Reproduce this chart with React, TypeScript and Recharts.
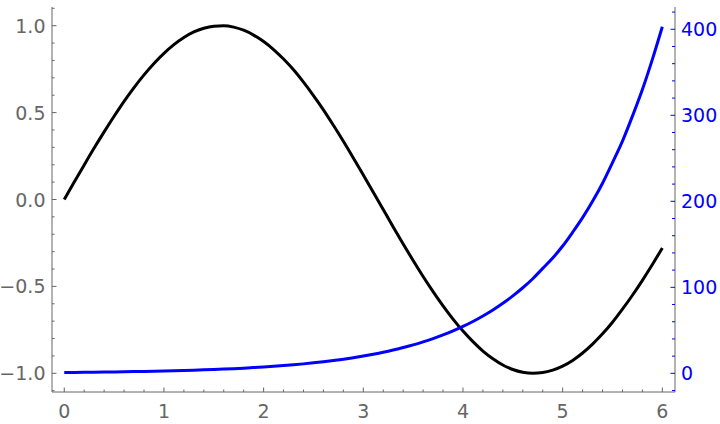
import { LineChart, Line, XAxis, YAxis } from 'recharts'

const xValues = [
  0, 0.1, 0.2, 0.3, 0.4, 0.5, 0.6, 0.7, 0.8, 0.9, 1, 1.1, 1.2, 1.3, 1.4, 1.5, 1.6, 1.7, 1.8, 1.9,
  2, 2.1, 2.2, 2.3, 2.4, 2.5, 2.6, 2.7, 2.8, 2.9, 3, 3.1, 3.2, 3.3, 3.4, 3.5, 3.6, 3.7, 3.8, 3.9,
  4, 4.1, 4.2, 4.3, 4.4, 4.5, 4.6, 4.7, 4.8, 4.9, 5, 5.1, 5.2, 5.3, 5.4, 5.5, 5.6, 5.7, 5.8, 5.9, 6,
]

// black curve, left axis
const blackSeries = [
  0, 0.1, 0.199, 0.296, 0.389, 0.479, 0.565, 0.644, 0.717, 0.783, 0.841, 0.891, 0.932, 0.964, 0.985,
  0.997, 1.0, 0.992, 0.974, 0.946, 0.909, 0.863, 0.808, 0.746, 0.675, 0.598, 0.516, 0.427, 0.335,
  0.239, 0.141, 0.042, -0.058, -0.158, -0.256, -0.351, -0.443, -0.53, -0.612, -0.688, -0.757,
  -0.818, -0.872, -0.916, -0.952, -0.978, -0.994, -1.0, -0.996, -0.982, -0.959, -0.926, -0.883,
  -0.832, -0.773, -0.706, -0.631, -0.551, -0.465, -0.374, -0.279,
]

// blue curve, right axis
const blueSeries = [
  1.0, 1.11, 1.22, 1.35, 1.49, 1.65, 1.82, 2.01, 2.23, 2.46, 2.72, 3.0, 3.32, 3.67, 4.06, 4.48, 4.95,
  5.47, 6.05, 6.69, 7.39, 8.17, 9.03, 9.97, 11.0, 12.2, 13.5, 14.9, 16.4, 18.2, 20.1, 22.2, 24.5,
  27.1, 30.0, 33.1, 36.6, 40.4, 44.7, 49.4, 54.6, 60.3, 66.7, 73.7, 81.5, 90.0, 99.5, 110, 122, 134,
  148, 164, 181, 200, 221, 245, 270, 299, 330, 365, 403,
]

const xMajor = [0, 1, 2, 3, 4, 5, 6]
const leftMajor = [-1, -0.5, 0, 0.5, 1]
const rightMajor = [0, 100, 200, 300, 400]

const data = xValues.map((x, i) => ({ x, s: blackSeries[i], e: blueSeries[i] }))

const steps = (from: number, to: number, step: number) => {
  const out: number[] = []
  const n = Math.round((to - from) / step)
  for (let i = 0; i <= n; i++) out.push(Math.round((from + i * step) * 1000) / 1000)
  return out
}

const xTicks = steps(0, 6, 0.2)
const leftTicks = steps(-1.1, 1.1, 0.1)
const rightTicks = steps(-20, 420, 20)

const GRAY = '#666666'
const BLUE = '#0000ff'
const FS = 19
const labelStyle = { fontSize: FS + 'px', fontFamily: '"DejaVu Sans", sans-serif' }

const isMajor = (v: number, list: number[]) => list.some((m) => Math.abs(m - v) < 1e-6)

const fmtLeft = (v: number) => {
  const s = v.toFixed(1)
  return s.startsWith('-') ? '\u2212' + s.slice(1) : s
}

function XTick(props: any) {
  const { x, y, payload } = props
  const major = isMajor(payload.value, xMajor)
  return (
    <g>
      <line x1={x} x2={x} y1={y} y2={y - (major ? 4.5 : 2.5)} stroke={GRAY} strokeWidth={1} />
      {major && (
        <text x={x} y={y + 26} textAnchor="middle" fill={GRAY} fontSize={FS} style={labelStyle}>
          {Math.round(payload.value)}
        </text>
      )}
    </g>
  )
}

function LeftTick(props: any) {
  const { x, y, payload } = props
  const major = isMajor(payload.value, leftMajor)
  return (
    <g>
      <line x1={x} x2={x + (major ? 4.5 : 2.5)} y1={y} y2={y} stroke={GRAY} strokeWidth={1} />
      {major && (
        <text x={x - 6.5} y={y + 7} textAnchor="end" fill={GRAY} fontSize={FS} style={labelStyle}>
          {fmtLeft(payload.value)}
        </text>
      )}
    </g>
  )
}

function RightTick(props: any) {
  const { x, y, payload } = props
  const major = isMajor(payload.value, rightMajor)
  return (
    <g>
      <line x1={x} x2={x - (major ? 4.5 : 3)} y1={y} y2={y} stroke={BLUE} strokeWidth={1} />
      {major && (
        <text x={x + 6} y={y + 7} textAnchor="start" fill={BLUE} fontSize={FS} style={labelStyle}>
          {Math.round(payload.value)}
        </text>
      )}
    </g>
  )
}

export default function App() {
  return (
    <div style={{ position: 'absolute', left: 0, top: 0, background: '#fff' }}>
      <LineChart width={720} height={424} data={data} margin={{ top: 7, right: 0, bottom: 0, left: 0 }}>
        <XAxis
          xAxisId="main"
          dataKey="x"
          type="number"
          domain={[-0.123, 6.127]}
          ticks={xTicks}
          interval={0}
          height={32}
          tickSize={0}
          tickMargin={0}
          tickLine={false}
          axisLine={{ stroke: GRAY }}
          tick={<XTick />}
        />
        <XAxis
          xAxisId="top"
          orientation="top"
          dataKey="x"
          type="number"
          domain={[-0.123, 6.127]}
          height={0}
          tick={false}
          tickLine={false}
          axisLine={{ stroke: GRAY }}
        />
        <YAxis
          yAxisId="left"
          type="number"
          domain={[-1.1076, 1.1076]}
          ticks={leftTicks}
          interval={0}
          width={52}
          tickSize={0}
          tickMargin={0}
          tickLine={false}
          axisLine={{ stroke: GRAY }}
          tick={<LeftTick />}
        />
        <YAxis
          yAxisId="right"
          orientation="right"
          type="number"
          domain={[-21.7, 425.9]}
          ticks={rightTicks}
          interval={0}
          width={45}
          tickSize={0}
          tickMargin={0}
          tickLine={false}
          axisLine={{ stroke: GRAY }}
          tick={<RightTick />}
        />
        <Line
          xAxisId="main"
          yAxisId="left"
          dataKey="s"
          type="monotone"
          stroke="#000000"
          strokeWidth={3}
          dot={false}
          isAnimationActive={false}
        />
        <Line
          xAxisId="main"
          yAxisId="right"
          dataKey="e"
          type="monotone"
          stroke={BLUE}
          strokeWidth={3}
          dot={false}
          isAnimationActive={false}
        />
      </LineChart>
    </div>
  )
}
